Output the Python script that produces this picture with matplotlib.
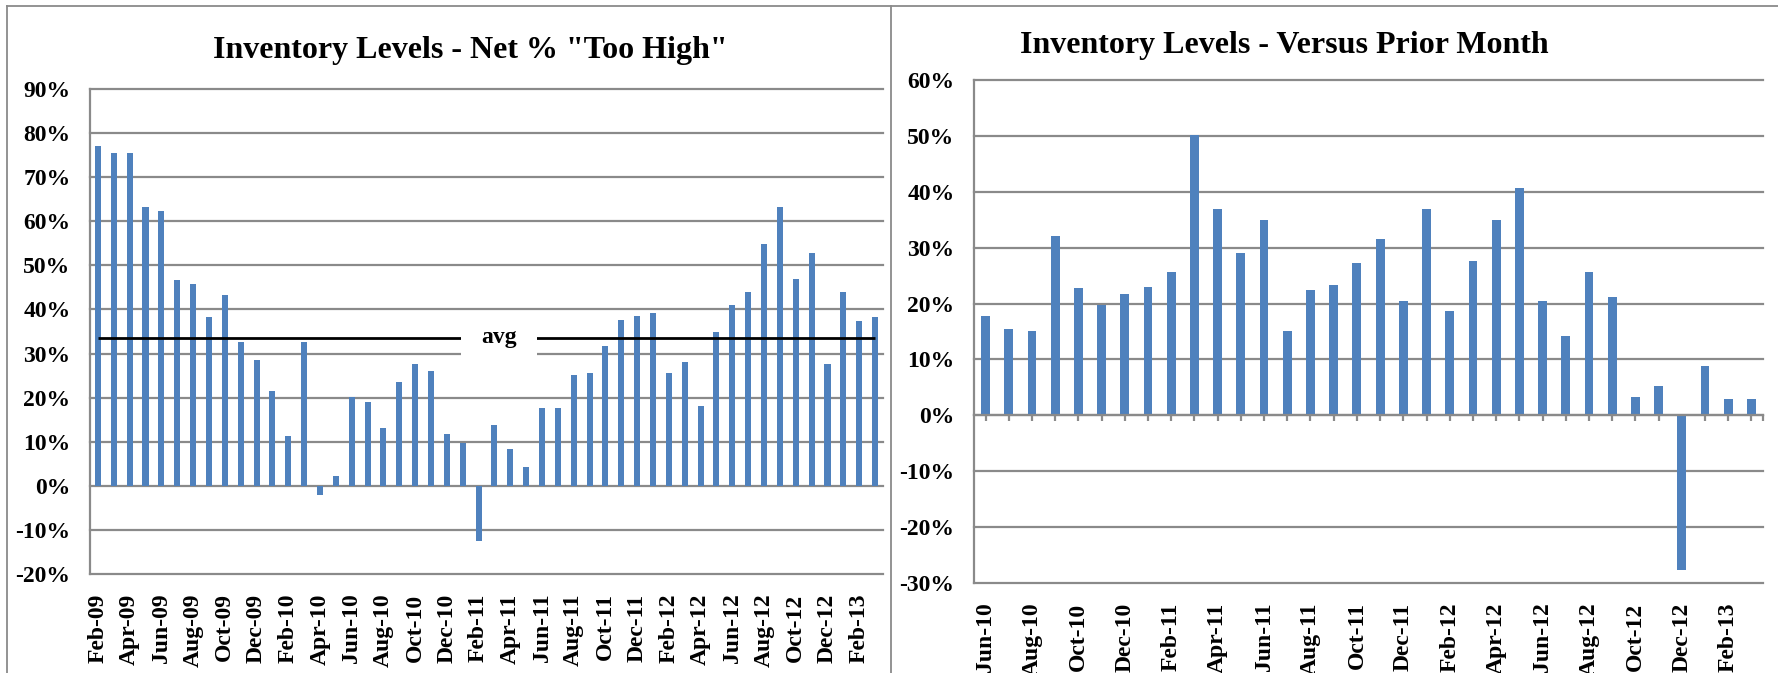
import matplotlib
matplotlib.use('Agg')
import matplotlib.pyplot as plt
from matplotlib.patches import Rectangle
from matplotlib.lines import Line2D
import pandas as pd

plt.rcParams['font.family'] = ['Liberation Serif', 'DejaVu Serif']
plt.rcParams['font.weight'] = 'bold'

# Net % of firms reporting inventories "too high", Feb-09 .. Mar-13
months_high = pd.date_range('2009-02-01', periods=50, freq='MS').strftime('%b-%y').tolist()
too_high = [77.1, 75.4, 75.4, 63.2, 62.4, 46.6, 45.7, 38.2, 43.2, 32.7,
            28.5, 21.4, 11.3, 32.7, -2.0, 2.2, 20.1, 18.9, 13.0, 23.5,
            27.7, 26.0, 11.7, 9.7, -12.5, 13.8, 8.4, 4.2, 17.6, 17.6,
            25.1, 25.6, 31.8, 37.7, 38.5, 39.3, 25.6, 28.1, 18.0, 34.8,
            41.1, 43.9, 54.9, 63.3, 46.9, 52.8, 27.7, 43.9, 37.3, 38.2]
too_high_avg = 33.6

# Inventory levels versus prior month, Jun-10 .. Mar-13
months_prior = pd.date_range('2010-06-01', periods=34, freq='MS').strftime('%b-%y').tolist()
vs_prior = [17.7, 15.4, 15.1, 32.0, 22.7, 19.7, 21.7, 23.0, 25.6, 50.1,
            36.9, 29.0, 34.9, 15.1, 22.4, 23.4, 27.3, 31.6, 20.4, 36.9,
            18.7, 27.7, 34.9, 40.6, 20.4, 14.2, 25.6, 21.1, 3.2, 5.2,
            -27.7, 8.8, 2.9, 2.9]

BLUE = '#4F81BD'
GRID = '#8A8A8A'
W, H = 1778, 673

fig = plt.figure(figsize=(W / 100, H / 100), dpi=100)


def px_axes(x0, y0, x1, y1):
    return fig.add_axes([x0 / W, 1 - y1 / H, (x1 - x0) / W, (y1 - y0) / H])


def style(ax, ymin, ymax):
    ax.set_ylim(ymin, ymax)
    ax.set_yticks(range(ymin, ymax + 1, 10))
    ax.yaxis.set_major_formatter(lambda v, p: f'{v:.0f}%')
    ax.grid(axis='y', color=GRID, lw=1.6)
    for gl in ax.get_ygridlines():
        gl.set_clip_on(False)
    ax.set_axisbelow(True)
    for s in ['top', 'right', 'bottom']:
        ax.spines[s].set_visible(False)
    ax.spines['left'].set_color(GRID)
    ax.spines['left'].set_linewidth(1.6)
    ax.tick_params(axis='y', length=0, pad=14, labelsize=17)


# left chart
ax1 = px_axes(90, 89, 883, 574)
x1 = list(range(len(too_high)))
ax1.bar(x1, too_high, width=0.38, color=BLUE, zorder=2)
ax1.set_xlim(-0.5, len(too_high) - 0.5)
style(ax1, -20, 90)
ax1.set_xticks(x1[::2], months_high[::2], rotation=90)
ax1.tick_params(axis='x', length=0, pad=14, labelsize=17)

ax1.hlines(too_high_avg, x1[0], x1[-1], color='black', lw=2.0, zorder=3)
ax1.add_patch(Rectangle((22.9, 29.0), 4.8, 9.0, facecolor='white',
                        edgecolor='none', zorder=4))
ax1.text(25.3, too_high_avg, 'avg', ha='center', va='center',
         fontsize=17, zorder=5)

# right chart
ax2 = px_axes(974, 80, 1763, 583)
x2 = list(range(len(vs_prior)))
ax2.bar(x2, vs_prior, width=0.38, color=BLUE, zorder=2)
ax2.set_xlim(-0.5, len(vs_prior) - 0.5)
style(ax2, -30, 60)
ax2.spines['bottom'].set_visible(True)
ax2.spines['bottom'].set_position(('data', 0))
ax2.spines['bottom'].set_color(GRID)
ax2.spines['bottom'].set_linewidth(1.6)
ax2.set_xticks(x2 + [len(vs_prior) - 0.5])
ax2.tick_params(axis='x', length=4, width=1.6, color=GRID, labelbottom=False)

sec = ax2.secondary_xaxis('bottom')
sec.spines['bottom'].set_visible(False)
sec.set_xticks(x2[::2], months_prior[::2], rotation=90)
sec.tick_params(axis='x', length=0, pad=14, labelsize=17)

# titles
fig.text(470 / W, 1 - 58 / H, 'Inventory Levels - Net % "Too High"',
         ha='center', va='baseline', fontsize=23)
fig.text(1284 / W, 1 - 53 / H, 'Inventory Levels - Versus Prior Month',
         ha='center', va='baseline', fontsize=23)

# chart frames
for xs, ys in [([7 / W, 7 / W], [0, 1 - 6 / H]),
               ([7 / W, 1], [1 - 6 / H, 1 - 6 / H]),
               ([891 / W, 891 / W], [0, 1 - 6 / H])]:
    fig.add_artist(Line2D(xs, ys, color=GRID, lw=1.3))

fig.savefig('out.png', dpi=100)
